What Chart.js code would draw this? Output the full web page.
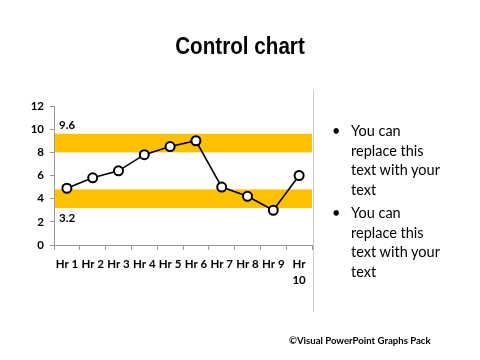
<!DOCTYPE html>
<html><head><meta charset="utf-8">
<script src="https://cdn.jsdelivr.net/npm/chart.js@4"></script>
<style>
html,body{margin:0;padding:0;background:#fff;width:480px;height:360px;overflow:hidden;}
#wrap{position:absolute;left:0;top:0;width:480px;height:360px;}
#title{position:absolute;left:0;width:480px;top:32px;text-align:center;font-family:"Liberation Sans Narrow","Arial Narrow","Liberation Sans",sans-serif;font-weight:bold;font-size:24px;color:#000;transform:scaleX(0.86);}
#sep{position:absolute;left:313px;top:90px;width:1px;height:222px;background:#c8c8c8;}
#bul{position:absolute;left:332px;top:121px;font-family:Lato,"Open Sans",sans-serif;font-size:14.5px;line-height:19.7px;color:#000;}
#bul .b{position:relative;padding-left:19px;width:96px;margin-bottom:3px;}
#bul .b:before{content:"\2022";position:absolute;left:0;top:0;}
#foot{position:absolute;left:289px;top:335px;font-family:Lato,"Open Sans",sans-serif;font-weight:bold;font-size:9.6px;color:#000;}
</style></head>
<body>
<div id="wrap"><canvas id="c" width="480" height="360"></canvas></div>
<div id="title">Control chart</div>
<div id="sep"></div>
<div id="bul"><div class="b">You can replace this text with your text</div><div class="b">You can replace this text with your text</div></div>
<div id="foot">©Visual PowerPoint Graphs Pack</div>
<script>
const categories = ["Hr 1","Hr 2","Hr 3","Hr 4","Hr 5","Hr 6","Hr 7","Hr 8","Hr 9",["Hr","10"]];
const values = [4.9, 5.8, 6.4, 7.8, 8.5, 9.0, 5.0, 4.2, 3.0, 6.0];
const upperBand = [8, 9.6];
const lowerBand = [3.2, 4.8];
const limitLabels = ["9.6", "3.2"];
const yTicks = [0, 2, 4, 6, 8, 10, 12];

const bandPlugin = {
  id: 'bands',
  beforeDatasetsDraw(chart) {
    const {ctx, chartArea: a, scales: {y}} = chart;
    ctx.save();
    ctx.fillStyle = '#FFC000';
    [upperBand, lowerBand].forEach(b => {
      const t = y.getPixelForValue(b[1]), bt = y.getPixelForValue(b[0]);
      ctx.fillRect(a.left + 1, t, a.right - a.left - 1, bt - t);
    });
    ctx.fillStyle = '#000';
    ctx.font = 'bold 11.5px Lato, "Open Sans", sans-serif';
    ctx.textBaseline = 'bottom';
    ctx.fillText(limitLabels[0], a.left + 5, y.getPixelForValue(upperBand[1]) - 3);
    ctx.textBaseline = 'top';
    ctx.fillText(limitLabels[1], a.left + 5, y.getPixelForValue(lowerBand[0]) + 5);
    ctx.restore();
  }
};

new Chart(document.getElementById('c'), {
  type: 'line',
  data: {
    labels: categories,
    datasets: [{
      data: values,
      borderColor: '#000',
      borderWidth: 1.6,
      pointBackgroundColor: '#fff',
      pointBorderColor: '#000',
      pointBorderWidth: 2,
      pointRadius: 4.5,
      tension: 0
    }]
  },
  options: {
    responsive: false,
    animation: false,
    events: [],
    layout: {padding: {left: 20, right: 168, top: 106, bottom: 55}},
    plugins: {legend: {display: false}, tooltip: {enabled: false}},
    scales: {
      x: {
        offset: true,
        afterFit: s => { s.height = 60; },
        grid: {display: true, drawOnChartArea: false, offset: true, color: '#999', tickLength: 5, tickColor: '#999'},
        border: {color: '#999'},
        ticks: {color: '#000', font: {family: 'Lato, "Open Sans", sans-serif', weight: 'bold', size: 11.5, lineHeight: 1.4}, maxRotation: 0, autoSkip: false, padding: 6}
      },
      y: {
        min: 0, max: 12,
        afterFit: s => { s.width = 34; },
        afterBuildTicks: s => { s.ticks = yTicks.map(v => ({value: v})); },
        grid: {display: true, drawOnChartArea: false, color: '#999', tickLength: 4, tickColor: '#999'},
        border: {color: '#999'},
        ticks: {color: '#000', font: {family: 'Lato, "Open Sans", sans-serif', weight: 'bold', size: 11.5}, padding: 6}
      }
    }
  },
  plugins: [bandPlugin]
});
</script>
</body></html>
